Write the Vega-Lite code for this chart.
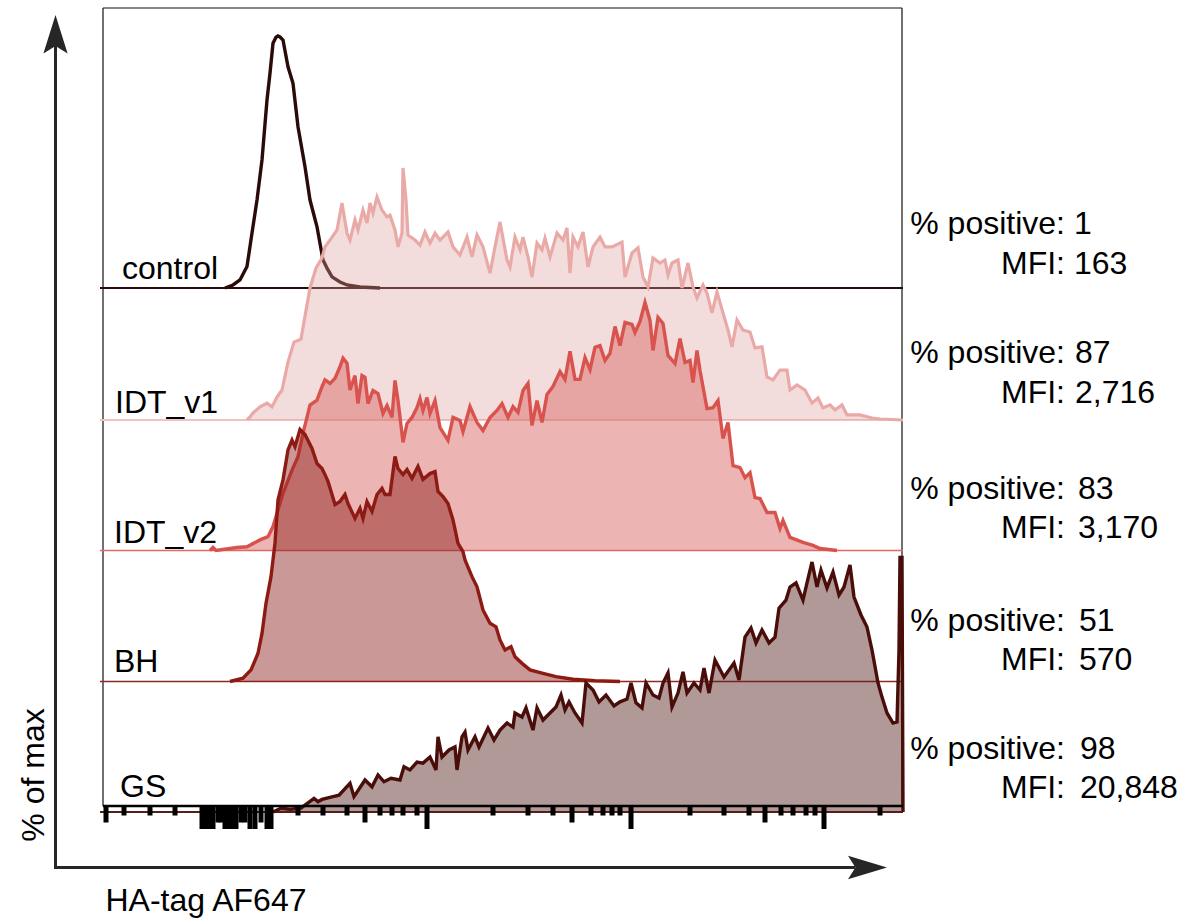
{
"$schema": "https://vega.github.io/schema/vega-lite/v6.json",
"width": 803, "height": 804,
"autosize": {"type": "none"},
"padding": {"left": 100, "top": 8, "right": 284, "bottom": 108},
"background": "white",
"config": {"view": {"stroke": null}},
"datasets": {
"stats": [
{"s":"control","pos":"1","mfi":"163"},
{"s":"IDT_v1","pos":"87","mfi":"2,716"},
{"s":"IDT_v2","pos":"83","mfi":"3,170"},
{"s":"BH","pos":"51","mfi":"570"},
{"s":"GS","pos":"98","mfi":"20,848"}
],
"ticks": [
{"x":6,"k":"mid"},{"x":24,"k":"short"},{"x":50,"k":"short"},{"x":75,"k":"short"},
{"x":102,"k":"long"},{"x":106,"k":"long"},{"x":110,"k":"long"},{"x":113,"k":"long"},
{"x":118,"k":"mid"},{"x":121,"k":"mid"},
{"x":125,"k":"long"},{"x":129,"k":"long"},{"x":133,"k":"long"},{"x":136,"k":"long"},
{"x":141,"k":"mid"},{"x":145,"k":"mid"},
{"x":150,"k":"long"},{"x":155,"k":"long"},
{"x":161,"k":"mid"},
{"x":167,"k":"long"},{"x":171,"k":"long"},
{"x":198,"k":"short"},{"x":223,"k":"short"},{"x":247,"k":"short"},{"x":265,"k":"mid"},
{"x":280,"k":"short"},{"x":292,"k":"short"},{"x":303,"k":"short"},{"x":317,"k":"short"},{"x":327,"k":"long"},
{"x":393,"k":"short"},{"x":428,"k":"short"},{"x":453,"k":"short"},{"x":472,"k":"mid"},
{"x":491,"k":"short"},{"x":503,"k":"short"},{"x":512,"k":"short"},{"x":520,"k":"short"},{"x":531,"k":"long"},
{"x":590,"k":"short"},{"x":624,"k":"short"},{"x":649,"k":"short"},{"x":665,"k":"mid"},
{"x":681,"k":"short"},{"x":693,"k":"short"},{"x":706,"k":"short"},{"x":715,"k":"short"},{"x":724,"k":"long"},
{"x":780,"k":"short"}
],
"hist": [
{"s":"control","x":125,"p":0},{"s":"control","x":133,"p":1.2},{"s":"control","x":140,"p":3.2},{"s":"control","x":147,"p":8.5},{"s":"control","x":152,"p":21.8},{"s":"control","x":157,"p":34.9},{"s":"control","x":162,"p":50.8},{"s":"control","x":167,"p":74.6},{"s":"control","x":170,"p":85.2},{"s":"control","x":173,"p":97.1},{"s":"control","x":176,"p":99.5},{"s":"control","x":178,"p":100},{"s":"control","x":180,"p":99.6},{"s":"control","x":183,"p":98.4},{"s":"control","x":188,"p":87.8},{"s":"control","x":193,"p":81.2},{"s":"control","x":198,"p":64},{"s":"control","x":205,"p":48.1},{"s":"control","x":210,"p":34.9},{"s":"control","x":217,"p":24.3},{"s":"control","x":223,"p":11.1},{"s":"control","x":227,"p":7.9},{"s":"control","x":232,"p":4.4},{"s":"control","x":240,"p":2.4},{"s":"control","x":247,"p":1.2},{"s":"control","x":260,"p":0.4},{"s":"control","x":280,"p":0},

{"s":"IDT_v1","x":147,"p":0},{"s":"IDT_v1","x":150,"p":1.2},{"s":"IDT_v1","x":153,"p":2.8},{"s":"IDT_v1","x":160,"p":5.2},{"s":"IDT_v1","x":167,"p":6.7},{"s":"IDT_v1","x":172,"p":5.2},{"s":"IDT_v1","x":177,"p":9.1},{"s":"IDT_v1","x":182,"p":11.9},{"s":"IDT_v1","x":188,"p":23},{"s":"IDT_v1","x":194,"p":30.9},{"s":"IDT_v1","x":201,"p":32.1},{"s":"IDT_v1","x":205,"p":41.3},{"s":"IDT_v1","x":210,"p":52.4},{"s":"IDT_v1","x":216,"p":60.3},{"s":"IDT_v1","x":222,"p":64.3},{"s":"IDT_v1","x":225,"p":68.7},{"s":"IDT_v1","x":230,"p":71.4},{"s":"IDT_v1","x":237,"p":75.4},{"s":"IDT_v1","x":242,"p":86.1},{"s":"IDT_v1","x":247,"p":74.2},{"s":"IDT_v1","x":250,"p":71.4},{"s":"IDT_v1","x":255,"p":79.4},{"s":"IDT_v1","x":258,"p":75.4},{"s":"IDT_v1","x":263,"p":83.3},{"s":"IDT_v1","x":267,"p":78.2},{"s":"IDT_v1","x":270,"p":86.1},{"s":"IDT_v1","x":273,"p":82.1},{"s":"IDT_v1","x":277,"p":88.5},{"s":"IDT_v1","x":282,"p":83.3},{"s":"IDT_v1","x":287,"p":80.6},{"s":"IDT_v1","x":290,"p":81.3},{"s":"IDT_v1","x":295,"p":75.4},{"s":"IDT_v1","x":298,"p":68.7},{"s":"IDT_v1","x":302,"p":74.2},{"s":"IDT_v1","x":303,"p":100},{"s":"IDT_v1","x":306,"p":87.3},{"s":"IDT_v1","x":308,"p":73.4},{"s":"IDT_v1","x":315,"p":71.4},{"s":"IDT_v1","x":320,"p":69.4},{"s":"IDT_v1","x":325,"p":74.6},{"s":"IDT_v1","x":330,"p":70.2},{"s":"IDT_v1","x":335,"p":74.2},{"s":"IDT_v1","x":340,"p":71.4},{"s":"IDT_v1","x":348,"p":74.6},{"s":"IDT_v1","x":353,"p":68.7},{"s":"IDT_v1","x":360,"p":65.5},{"s":"IDT_v1","x":367,"p":72.6},{"s":"IDT_v1","x":372,"p":64.7},{"s":"IDT_v1","x":377,"p":73.4},{"s":"IDT_v1","x":383,"p":68.7},{"s":"IDT_v1","x":390,"p":58.3},{"s":"IDT_v1","x":395,"p":68.7},{"s":"IDT_v1","x":400,"p":78.6},{"s":"IDT_v1","x":407,"p":63.5},{"s":"IDT_v1","x":410,"p":60.7},{"s":"IDT_v1","x":415,"p":72.6},{"s":"IDT_v1","x":420,"p":67.5},{"s":"IDT_v1","x":423,"p":72.6},{"s":"IDT_v1","x":428,"p":64.7},{"s":"IDT_v1","x":432,"p":56.7},{"s":"IDT_v1","x":437,"p":70.2},{"s":"IDT_v1","x":442,"p":67.5},{"s":"IDT_v1","x":445,"p":72.2},{"s":"IDT_v1","x":450,"p":64.7},{"s":"IDT_v1","x":457,"p":74.2},{"s":"IDT_v1","x":463,"p":71.4},{"s":"IDT_v1","x":467,"p":76.2},{"s":"IDT_v1","x":470,"p":58.3},{"s":"IDT_v1","x":473,"p":72.6},{"s":"IDT_v1","x":478,"p":68.7},{"s":"IDT_v1","x":483,"p":74.6},{"s":"IDT_v1","x":488,"p":60.7},{"s":"IDT_v1","x":493,"p":68.7},{"s":"IDT_v1","x":500,"p":72.6},{"s":"IDT_v1","x":505,"p":68.7},{"s":"IDT_v1","x":512,"p":68.7},{"s":"IDT_v1","x":522,"p":70.6},{"s":"IDT_v1","x":525,"p":56.7},{"s":"IDT_v1","x":532,"p":66.3},{"s":"IDT_v1","x":538,"p":68.3},{"s":"IDT_v1","x":543,"p":56.7},{"s":"IDT_v1","x":548,"p":52.8},{"s":"IDT_v1","x":553,"p":64.3},{"s":"IDT_v1","x":560,"p":62.3},{"s":"IDT_v1","x":565,"p":63.5},{"s":"IDT_v1","x":568,"p":57.5},{"s":"IDT_v1","x":572,"p":62.3},{"s":"IDT_v1","x":578,"p":63.5},{"s":"IDT_v1","x":582,"p":52.4},{"s":"IDT_v1","x":588,"p":62.3},{"s":"IDT_v1","x":593,"p":52.8},{"s":"IDT_v1","x":597,"p":48.4},{"s":"IDT_v1","x":603,"p":53.6},{"s":"IDT_v1","x":607,"p":50.4},{"s":"IDT_v1","x":612,"p":42.5},{"s":"IDT_v1","x":617,"p":50.8},{"s":"IDT_v1","x":623,"p":42.5},{"s":"IDT_v1","x":628,"p":35.7},{"s":"IDT_v1","x":632,"p":29},{"s":"IDT_v1","x":637,"p":39.7},{"s":"IDT_v1","x":643,"p":35.7},{"s":"IDT_v1","x":650,"p":34.9},{"s":"IDT_v1","x":655,"p":28.6},{"s":"IDT_v1","x":662,"p":29},{"s":"IDT_v1","x":667,"p":17.1},{"s":"IDT_v1","x":673,"p":15.9},{"s":"IDT_v1","x":680,"p":19.8},{"s":"IDT_v1","x":687,"p":19.8},{"s":"IDT_v1","x":690,"p":11.9},{"s":"IDT_v1","x":697,"p":13.9},{"s":"IDT_v1","x":705,"p":11.9},{"s":"IDT_v1","x":712,"p":6.7},{"s":"IDT_v1","x":718,"p":8.7},{"s":"IDT_v1","x":723,"p":4.8},{"s":"IDT_v1","x":730,"p":6},{"s":"IDT_v1","x":735,"p":4},{"s":"IDT_v1","x":742,"p":6},{"s":"IDT_v1","x":747,"p":2},{"s":"IDT_v1","x":760,"p":2},{"s":"IDT_v1","x":772,"p":0.8},{"s":"IDT_v1","x":780,"p":0.4},{"s":"IDT_v1","x":803,"p":0},

{"s":"IDT_v2","x":110,"p":0},{"s":"IDT_v2","x":113,"p":1.2},{"s":"IDT_v2","x":116,"p":0},{"s":"IDT_v2","x":130,"p":0.8},{"s":"IDT_v2","x":137,"p":1.2},{"s":"IDT_v2","x":147,"p":1.5},{"s":"IDT_v2","x":160,"p":4.2},{"s":"IDT_v2","x":168,"p":5.5},{"s":"IDT_v2","x":173,"p":9.5},{"s":"IDT_v2","x":177,"p":14.8},{"s":"IDT_v2","x":183,"p":22.7},{"s":"IDT_v2","x":192,"p":31.9},{"s":"IDT_v2","x":198,"p":37.2},{"s":"IDT_v2","x":203,"p":46.5},{"s":"IDT_v2","x":210,"p":57.7},{"s":"IDT_v2","x":217,"p":59.7},{"s":"IDT_v2","x":222,"p":65},{"s":"IDT_v2","x":225,"p":67.7},{"s":"IDT_v2","x":230,"p":66.3},{"s":"IDT_v2","x":235,"p":68.3},{"s":"IDT_v2","x":240,"p":72.9},{"s":"IDT_v2","x":243,"p":76.3},{"s":"IDT_v2","x":247,"p":74.3},{"s":"IDT_v2","x":250,"p":63.7},{"s":"IDT_v2","x":255,"p":69.4},{"s":"IDT_v2","x":258,"p":58.3},{"s":"IDT_v2","x":262,"p":69.4},{"s":"IDT_v2","x":265,"p":68.7},{"s":"IDT_v2","x":268,"p":58.3},{"s":"IDT_v2","x":273,"p":63.5},{"s":"IDT_v2","x":278,"p":62.3},{"s":"IDT_v2","x":283,"p":54.4},{"s":"IDT_v2","x":287,"p":57.5},{"s":"IDT_v2","x":292,"p":52.8},{"s":"IDT_v2","x":295,"p":67.5},{"s":"IDT_v2","x":298,"p":59.5},{"s":"IDT_v2","x":303,"p":42.9},{"s":"IDT_v2","x":307,"p":50.4},{"s":"IDT_v2","x":312,"p":52.8},{"s":"IDT_v2","x":317,"p":56.7},{"s":"IDT_v2","x":320,"p":60.3},{"s":"IDT_v2","x":323,"p":55.6},{"s":"IDT_v2","x":327,"p":60.7},{"s":"IDT_v2","x":330,"p":54.4},{"s":"IDT_v2","x":335,"p":59.5},{"s":"IDT_v2","x":340,"p":48.8},{"s":"IDT_v2","x":348,"p":43.7},{"s":"IDT_v2","x":353,"p":52.8},{"s":"IDT_v2","x":360,"p":51.6},{"s":"IDT_v2","x":363,"p":47.2},{"s":"IDT_v2","x":370,"p":57.1},{"s":"IDT_v2","x":377,"p":50.8},{"s":"IDT_v2","x":383,"p":47.6},{"s":"IDT_v2","x":390,"p":52.8},{"s":"IDT_v2","x":397,"p":55.6},{"s":"IDT_v2","x":402,"p":58.3},{"s":"IDT_v2","x":408,"p":52.8},{"s":"IDT_v2","x":413,"p":57.1},{"s":"IDT_v2","x":418,"p":54.8},{"s":"IDT_v2","x":423,"p":63.5},{"s":"IDT_v2","x":428,"p":66.3},{"s":"IDT_v2","x":432,"p":49.6},{"s":"IDT_v2","x":437,"p":59.5},{"s":"IDT_v2","x":442,"p":50.8},{"s":"IDT_v2","x":447,"p":61.9},{"s":"IDT_v2","x":453,"p":65.1},{"s":"IDT_v2","x":460,"p":71},{"s":"IDT_v2","x":465,"p":67.9},{"s":"IDT_v2","x":470,"p":79},{"s":"IDT_v2","x":475,"p":67.9},{"s":"IDT_v2","x":480,"p":67.9},{"s":"IDT_v2","x":485,"p":76.6},{"s":"IDT_v2","x":490,"p":71.8},{"s":"IDT_v2","x":495,"p":80.6},{"s":"IDT_v2","x":500,"p":81.3},{"s":"IDT_v2","x":505,"p":75.4},{"s":"IDT_v2","x":510,"p":78.2},{"s":"IDT_v2","x":515,"p":88.9},{"s":"IDT_v2","x":520,"p":81.3},{"s":"IDT_v2","x":525,"p":90.5},{"s":"IDT_v2","x":532,"p":89.7},{"s":"IDT_v2","x":535,"p":86.5},{"s":"IDT_v2","x":540,"p":90.9},{"s":"IDT_v2","x":545,"p":98.4},{"s":"IDT_v2","x":550,"p":91.3},{"s":"IDT_v2","x":553,"p":79.4},{"s":"IDT_v2","x":558,"p":92.5},{"s":"IDT_v2","x":563,"p":90.1},{"s":"IDT_v2","x":568,"p":77.4},{"s":"IDT_v2","x":575,"p":74.2},{"s":"IDT_v2","x":580,"p":84.1},{"s":"IDT_v2","x":585,"p":74.6},{"s":"IDT_v2","x":590,"p":75.4},{"s":"IDT_v2","x":593,"p":66.7},{"s":"IDT_v2","x":597,"p":79.4},{"s":"IDT_v2","x":600,"p":71.4},{"s":"IDT_v2","x":607,"p":56.3},{"s":"IDT_v2","x":613,"p":56.7},{"s":"IDT_v2","x":618,"p":59.5},{"s":"IDT_v2","x":623,"p":44.4},{"s":"IDT_v2","x":628,"p":50.8},{"s":"IDT_v2","x":633,"p":33.7},{"s":"IDT_v2","x":640,"p":32.9},{"s":"IDT_v2","x":645,"p":28.9},{"s":"IDT_v2","x":650,"p":30.9},{"s":"IDT_v2","x":655,"p":21},{"s":"IDT_v2","x":660,"p":20.6},{"s":"IDT_v2","x":667,"p":15.1},{"s":"IDT_v2","x":675,"p":15.1},{"s":"IDT_v2","x":680,"p":8.7},{"s":"IDT_v2","x":683,"p":11.9},{"s":"IDT_v2","x":690,"p":5.2},{"s":"IDT_v2","x":703,"p":3.2},{"s":"IDT_v2","x":713,"p":2},{"s":"IDT_v2","x":720,"p":0.8},{"s":"IDT_v2","x":737,"p":0},

{"s":"BH","x":130,"p":0},{"s":"BH","x":143,"p":1.3},{"s":"BH","x":151,"p":4.6},{"s":"BH","x":158,"p":11.2},{"s":"BH","x":162,"p":19.1},{"s":"BH","x":166,"p":31},{"s":"BH","x":171,"p":41.6},{"s":"BH","x":175,"p":55},{"s":"BH","x":178,"p":72},{"s":"BH","x":183,"p":80},{"s":"BH","x":188,"p":91.9},{"s":"BH","x":192,"p":95.8},{"s":"BH","x":195,"p":93.2},{"s":"BH","x":200,"p":100},{"s":"BH","x":205,"p":98},{"s":"BH","x":212,"p":92.5},{"s":"BH","x":217,"p":86.5},{"s":"BH","x":222,"p":84.5},{"s":"BH","x":225,"p":82.1},{"s":"BH","x":228,"p":79.4},{"s":"BH","x":232,"p":74.2},{"s":"BH","x":235,"p":70.2},{"s":"BH","x":240,"p":71.4},{"s":"BH","x":245,"p":74.2},{"s":"BH","x":248,"p":70.6},{"s":"BH","x":255,"p":64.7},{"s":"BH","x":260,"p":68.7},{"s":"BH","x":263,"p":64.7},{"s":"BH","x":267,"p":71.4},{"s":"BH","x":272,"p":67.5},{"s":"BH","x":277,"p":74.2},{"s":"BH","x":282,"p":76.6},{"s":"BH","x":285,"p":74.2},{"s":"BH","x":290,"p":74.2},{"s":"BH","x":295,"p":89.3},{"s":"BH","x":298,"p":84.5},{"s":"BH","x":303,"p":82.1},{"s":"BH","x":307,"p":84.1},{"s":"BH","x":312,"p":80.6},{"s":"BH","x":318,"p":85.3},{"s":"BH","x":323,"p":80.2},{"s":"BH","x":330,"p":82.5},{"s":"BH","x":335,"p":83.3},{"s":"BH","x":338,"p":75.4},{"s":"BH","x":343,"p":73.4},{"s":"BH","x":348,"p":70.6},{"s":"BH","x":353,"p":64.1},{"s":"BH","x":358,"p":54.8},{"s":"BH","x":363,"p":51.5},{"s":"BH","x":365,"p":48.2},{"s":"BH","x":372,"p":41.6},{"s":"BH","x":377,"p":37.6},{"s":"BH","x":383,"p":28.4},{"s":"BH","x":390,"p":23.1},{"s":"BH","x":396,"p":21.7},{"s":"BH","x":400,"p":16.5},{"s":"BH","x":405,"p":12.5},{"s":"BH","x":411,"p":13.8},{"s":"BH","x":415,"p":9.8},{"s":"BH","x":422,"p":7.2},{"s":"BH","x":430,"p":4.6},{"s":"BH","x":443,"p":3.2},{"s":"BH","x":456,"p":1.9},{"s":"BH","x":473,"p":0.9},{"s":"BH","x":495,"p":0.3},{"s":"BH","x":520,"p":0},

{"s":"GS","x":173,"p":0},{"s":"GS","x":181,"p":1.5},{"s":"GS","x":190,"p":1.1},{"s":"GS","x":201,"p":1.5},{"s":"GS","x":214,"p":5.4},{"s":"GS","x":218,"p":4.1},{"s":"GS","x":222,"p":5},{"s":"GS","x":233,"p":6.1},{"s":"GS","x":239,"p":6.7},{"s":"GS","x":250,"p":11.4},{"s":"GS","x":254,"p":6.1},{"s":"GS","x":265,"p":12.7},{"s":"GS","x":272,"p":10},{"s":"GS","x":278,"p":14.7},{"s":"GS","x":284,"p":12},{"s":"GS","x":291,"p":13.4},{"s":"GS","x":300,"p":12.7},{"s":"GS","x":304,"p":18},{"s":"GS","x":310,"p":16.7},{"s":"GS","x":317,"p":19.8},{"s":"GS","x":323,"p":19.4},{"s":"GS","x":330,"p":21.8},{"s":"GS","x":336,"p":16.7},{"s":"GS","x":338,"p":29.8},{"s":"GS","x":342,"p":21.8},{"s":"GS","x":349,"p":24.6},{"s":"GS","x":355,"p":25.8},{"s":"GS","x":357,"p":16.7},{"s":"GS","x":362,"p":29.8},{"s":"GS","x":365,"p":31.7},{"s":"GS","x":368,"p":24.6},{"s":"GS","x":375,"p":29.8},{"s":"GS","x":379,"p":25.8},{"s":"GS","x":388,"p":33.3},{"s":"GS","x":394,"p":28.6},{"s":"GS","x":400,"p":32.5},{"s":"GS","x":407,"p":35.3},{"s":"GS","x":413,"p":33.7},{"s":"GS","x":415,"p":39.3},{"s":"GS","x":422,"p":37.7},{"s":"GS","x":426,"p":41.3},{"s":"GS","x":433,"p":32.5},{"s":"GS","x":437,"p":41.3},{"s":"GS","x":443,"p":36.5},{"s":"GS","x":450,"p":39.3},{"s":"GS","x":456,"p":41.7},{"s":"GS","x":461,"p":46.4},{"s":"GS","x":465,"p":40.5},{"s":"GS","x":469,"p":43.7},{"s":"GS","x":475,"p":39.3},{"s":"GS","x":482,"p":35.3},{"s":"GS","x":486,"p":51.2},{"s":"GS","x":493,"p":48.4},{"s":"GS","x":499,"p":43.7},{"s":"GS","x":506,"p":46.4},{"s":"GS","x":514,"p":42.1},{"s":"GS","x":520,"p":43.7},{"s":"GS","x":527,"p":44.8},{"s":"GS","x":531,"p":51.2},{"s":"GS","x":536,"p":43.3},{"s":"GS","x":542,"p":41.3},{"s":"GS","x":546,"p":51.2},{"s":"GS","x":553,"p":46.4},{"s":"GS","x":559,"p":45.2},{"s":"GS","x":563,"p":51.2},{"s":"GS","x":568,"p":55.2},{"s":"GS","x":572,"p":41.7},{"s":"GS","x":578,"p":47.2},{"s":"GS","x":583,"p":55.6},{"s":"GS","x":587,"p":47.2},{"s":"GS","x":594,"p":51.2},{"s":"GS","x":600,"p":48.4},{"s":"GS","x":604,"p":57.1},{"s":"GS","x":609,"p":47.2},{"s":"GS","x":615,"p":60.3},{"s":"GS","x":624,"p":53.6},{"s":"GS","x":634,"p":59.1},{"s":"GS","x":639,"p":52.4},{"s":"GS","x":645,"p":69.4},{"s":"GS","x":651,"p":73},{"s":"GS","x":656,"p":67.1},{"s":"GS","x":662,"p":72.2},{"s":"GS","x":669,"p":67.1},{"s":"GS","x":675,"p":69.4},{"s":"GS","x":679,"p":80.9},{"s":"GS","x":686,"p":84.1},{"s":"GS","x":690,"p":89.3},{"s":"GS","x":696,"p":90.9},{"s":"GS","x":703,"p":84.1},{"s":"GS","x":707,"p":90.9},{"s":"GS","x":712,"p":99.2},{"s":"GS","x":717,"p":89.3},{"s":"GS","x":721,"p":96},{"s":"GS","x":727,"p":88.9},{"s":"GS","x":733,"p":95.2},{"s":"GS","x":739,"p":86.1},{"s":"GS","x":744,"p":89.3},{"s":"GS","x":750,"p":98},{"s":"GS","x":754,"p":85.3},{"s":"GS","x":761,"p":78.2},{"s":"GS","x":767,"p":73.4},{"s":"GS","x":772,"p":64.3},{"s":"GS","x":778,"p":51.2},{"s":"GS","x":782,"p":45.6},{"s":"GS","x":787,"p":39.3},{"s":"GS","x":793,"p":35.3},{"s":"GS","x":797,"p":35.7},{"s":"GS","x":799,"p":64.3},{"s":"GS","x":800,"p":101},{"s":"GS","x":802,"p":101},{"s":"GS","x":803,"p":0}
]
},
"layer": [
{
"data": {"values": [{"k": 1}]},
"layer": [
{"mark": {"type": "rule", "color": "#111111", "strokeWidth": 1.2},
 "encoding": {"x": {"datum": 3, "type": "quantitative", "scale": {"domain": [0, 803], "nice": false, "zero": false}, "axis": null}, "x2": {"datum": 802}, "y": {"datum": 319.05, "type": "quantitative", "scale": {"domain": [0, 319.05], "nice": false, "zero": false}, "axis": null}}},
{"mark": {"type": "rule", "color": "#111111", "strokeWidth": 1.2},
 "encoding": {"x": {"datum": 3, "type": "quantitative", "axis": null}, "y": {"datum": 2.38, "type": "quantitative", "axis": null}, "y2": {"datum": 319.05}}},
{"mark": {"type": "rule", "color": "#111111", "strokeWidth": 1.2},
 "encoding": {"x": {"datum": 802, "type": "quantitative", "axis": null}, "y": {"datum": 2.38, "type": "quantitative", "axis": null}, "y2": {"datum": 319.05}}},
{"mark": {"type": "rule", "color": "#262626", "strokeWidth": 3},
 "encoding": {"x": {"datum": -44.5, "type": "quantitative", "axis": null}, "y": {"datum": -22.4, "type": "quantitative", "axis": null}, "y2": {"datum": 304.4}}},
{"mark": {"type": "rule", "color": "#262626", "strokeWidth": 3},
 "encoding": {"x": {"datum": -46, "type": "quantitative", "axis": null}, "x2": {"datum": 755}, "y": {"datum": -22.02, "type": "quantitative", "axis": null}}},
{"mark": {"type": "point", "shape": "M0,-1L0.63,1L0,0.62L-0.63,1Z", "filled": true, "color": "#262626", "opacity": 1, "size": 1475, "strokeWidth": 0},
 "encoding": {"x": {"datum": -44.5, "type": "quantitative", "axis": null}, "y": {"datum": 308.65, "type": "quantitative", "axis": null}}},
{"mark": {"type": "point", "shape": "M1,0L-1,-0.6L-0.62,0L-1,0.6Z", "filled": true, "color": "#262626", "opacity": 1, "size": 1521, "strokeWidth": 0},
 "encoding": {"x": {"datum": 767.5, "type": "quantitative", "axis": null}, "y": {"datum": -22.02, "type": "quantitative", "axis": null}}},
{"mark": {"type": "text", "text": "% of max", "angle": 270, "align": "center", "baseline": "alphabetic", "font": "Liberation Sans", "fontSize": 32, "color": "#000000"},
 "encoding": {"x": {"datum": -56, "type": "quantitative", "axis": null}, "y": {"datum": 14.7, "type": "quantitative", "axis": null}}},
{"mark": {"type": "text", "text": "HA-tag AF647", "align": "left", "baseline": "alphabetic", "font": "Liberation Sans", "fontSize": 32, "color": "#000000"},
 "encoding": {"x": {"datum": 5.5, "type": "quantitative", "axis": null}, "y": {"datum": -39.3, "type": "quantitative", "axis": null}}}
]
},
{
"layer": [
{"data": {"name": "stats"}, "transform": [{"filter": {"field": "s", "equal": "control"}}],
 "mark": {"type": "rule", "color": "#2b0b07", "strokeWidth": 2},
 "encoding": {"x": {"datum": 0, "type": "quantitative", "axis": null}, "x2": {"datum": 803}, "y": {"datum": 0, "type": "quantitative", "scale": {"domain": [-207.94, 111.11], "nice": false, "zero": false}, "axis": null}}},
{"data": {"name": "hist"}, "transform": [{"filter": {"field": "s", "equal": "control"}}],
 "mark": {"type": "line", "color": "#2b0b07", "strokeWidth": 3.4},
 "encoding": {"x": {"field": "x", "type": "quantitative", "scale": {"domain": [0, 803], "nice": false, "zero": false}, "axis": null}, "y": {"field": "p", "type": "quantitative", "scale": {"domain": [-207.94, 111.11], "nice": false, "zero": false}, "axis": null}}},
{"data": {"name": "stats"}, "transform": [{"filter": {"field": "s", "equal": "control"}}],
 "mark": {"type": "text", "align": "left", "baseline": "alphabetic", "font": "Liberation Sans", "fontSize": 32, "color": "#000000"},
 "encoding": {"text": {"field": "s"}, "x": {"datum": 22, "type": "quantitative", "axis": null}, "y": {"datum": 3.6, "type": "quantitative", "axis": null}}},
{"data": {"name": "stats"}, "transform": [{"filter": {"field": "s", "equal": "control"}}],
 "mark": {"type": "text", "text": "% positive:", "align": "right", "baseline": "alphabetic", "font": "Liberation Sans", "fontSize": 32, "color": "#000000"},
 "encoding": {"x": {"datum": 965, "type": "quantitative", "axis": null}, "y": {"datum": 21.5, "type": "quantitative", "axis": null}}},
{"data": {"name": "stats"}, "transform": [{"filter": {"field": "s", "equal": "control"}}],
 "mark": {"type": "text", "text": "MFI:", "align": "right", "baseline": "alphabetic", "font": "Liberation Sans", "fontSize": 32, "color": "#000000"},
 "encoding": {"x": {"datum": 965, "type": "quantitative", "axis": null}, "y": {"datum": 5.7, "type": "quantitative", "axis": null}}},
{"data": {"name": "stats"}, "transform": [{"filter": {"field": "s", "equal": "control"}}],
 "mark": {"type": "text", "align": "left", "baseline": "alphabetic", "font": "Liberation Sans", "fontSize": 32, "color": "#000000"},
 "encoding": {"text": {"field": "pos"}, "x": {"datum": 974, "type": "quantitative", "axis": null}, "y": {"datum": 21.5, "type": "quantitative", "axis": null}}},
{"data": {"name": "stats"}, "transform": [{"filter": {"field": "s", "equal": "control"}}],
 "mark": {"type": "text", "align": "left", "baseline": "alphabetic", "font": "Liberation Sans", "fontSize": 32, "color": "#000000"},
 "encoding": {"text": {"field": "mfi"}, "x": {"datum": 974, "type": "quantitative", "axis": null}, "y": {"datum": 5.7, "type": "quantitative", "axis": null}}}
]
},
{
"layer": [
{"data": {"name": "stats"}, "transform": [{"filter": {"field": "s", "equal": "IDT_v1"}}],
 "mark": {"type": "rule", "color": "#f0c3c1", "strokeWidth": 2},
 "encoding": {"x": {"datum": 0, "type": "quantitative", "axis": null}, "x2": {"datum": 803}, "y": {"datum": 0, "type": "quantitative", "scale": {"domain": [-155.56, 163.49], "nice": false, "zero": false}, "axis": null}}},
{"data": {"name": "hist"}, "transform": [{"filter": {"field": "s", "equal": "IDT_v1"}}],
 "mark": {"type": "area", "color": "#dd9b9b", "opacity": 0.35, "line": {"color": "#e9aaa7", "strokeWidth": 3.2, "opacity": 1}},
 "encoding": {"x": {"field": "x", "type": "quantitative", "scale": {"domain": [0, 803], "nice": false, "zero": false}, "axis": null}, "y": {"field": "p", "type": "quantitative", "scale": {"domain": [-155.56, 163.49], "nice": false, "zero": false}, "axis": null}, "y2": {"datum": 0}}},
{"data": {"name": "stats"}, "transform": [{"filter": {"field": "s", "equal": "IDT_v1"}}],
 "mark": {"type": "text", "align": "left", "baseline": "alphabetic", "font": "Liberation Sans", "fontSize": 32, "color": "#000000"},
 "encoding": {"text": {"field": "s"}, "x": {"datum": 15, "type": "quantitative", "axis": null}, "y": {"datum": 2.8, "type": "quantitative", "axis": null}}},
{"data": {"name": "stats"}, "transform": [{"filter": {"field": "s", "equal": "IDT_v1"}}],
 "mark": {"type": "text", "text": "% positive:", "align": "right", "baseline": "alphabetic", "font": "Liberation Sans", "fontSize": 32, "color": "#000000"},
 "encoding": {"x": {"datum": 965, "type": "quantitative", "axis": null}, "y": {"datum": 22.7, "type": "quantitative", "axis": null}}},
{"data": {"name": "stats"}, "transform": [{"filter": {"field": "s", "equal": "IDT_v1"}}],
 "mark": {"type": "text", "text": "MFI:", "align": "right", "baseline": "alphabetic", "font": "Liberation Sans", "fontSize": 32, "color": "#000000"},
 "encoding": {"x": {"datum": 965, "type": "quantitative", "axis": null}, "y": {"datum": 6.9, "type": "quantitative", "axis": null}}},
{"data": {"name": "stats"}, "transform": [{"filter": {"field": "s", "equal": "IDT_v1"}}],
 "mark": {"type": "text", "align": "left", "baseline": "alphabetic", "font": "Liberation Sans", "fontSize": 32, "color": "#000000"},
 "encoding": {"text": {"field": "pos"}, "x": {"datum": 975, "type": "quantitative", "axis": null}, "y": {"datum": 22.7, "type": "quantitative", "axis": null}}},
{"data": {"name": "stats"}, "transform": [{"filter": {"field": "s", "equal": "IDT_v1"}}],
 "mark": {"type": "text", "align": "left", "baseline": "alphabetic", "font": "Liberation Sans", "fontSize": 32, "color": "#000000"},
 "encoding": {"text": {"field": "mfi"}, "x": {"datum": 975, "type": "quantitative", "axis": null}, "y": {"datum": 6.9, "type": "quantitative", "axis": null}}}
]
},
{
"layer": [
{"data": {"name": "stats"}, "transform": [{"filter": {"field": "s", "equal": "IDT_v2"}}],
 "mark": {"type": "rule", "color": "#df6a66", "strokeWidth": 1.5},
 "encoding": {"x": {"datum": 0, "type": "quantitative", "axis": null}, "x2": {"datum": 803}, "y": {"datum": 0, "type": "quantitative", "scale": {"domain": [-103.77, 215.28], "nice": false, "zero": false}, "axis": null}}},
{"data": {"name": "hist"}, "transform": [{"filter": {"field": "s", "equal": "IDT_v2"}}],
 "mark": {"type": "area", "color": "#d96b69", "opacity": 0.5, "line": {"color": "#d9534e", "strokeWidth": 3.4, "opacity": 1}},
 "encoding": {"x": {"field": "x", "type": "quantitative", "scale": {"domain": [0, 803], "nice": false, "zero": false}, "axis": null}, "y": {"field": "p", "type": "quantitative", "scale": {"domain": [-103.77, 215.28], "nice": false, "zero": false}, "axis": null}, "y2": {"datum": 0}}},
{"data": {"name": "stats"}, "transform": [{"filter": {"field": "s", "equal": "IDT_v2"}}],
 "mark": {"type": "text", "align": "left", "baseline": "alphabetic", "font": "Liberation Sans", "fontSize": 32, "color": "#000000"},
 "encoding": {"text": {"field": "s"}, "x": {"datum": 14, "type": "quantitative", "axis": null}, "y": {"datum": 2.8, "type": "quantitative", "axis": null}}},
{"data": {"name": "stats"}, "transform": [{"filter": {"field": "s", "equal": "IDT_v2"}}],
 "mark": {"type": "text", "text": "% positive:", "align": "right", "baseline": "alphabetic", "font": "Liberation Sans", "fontSize": 32, "color": "#000000"},
 "encoding": {"x": {"datum": 965, "type": "quantitative", "axis": null}, "y": {"datum": 20.5, "type": "quantitative", "axis": null}}},
{"data": {"name": "stats"}, "transform": [{"filter": {"field": "s", "equal": "IDT_v2"}}],
 "mark": {"type": "text", "text": "MFI:", "align": "right", "baseline": "alphabetic", "font": "Liberation Sans", "fontSize": 32, "color": "#000000"},
 "encoding": {"x": {"datum": 965, "type": "quantitative", "axis": null}, "y": {"datum": 4.9, "type": "quantitative", "axis": null}}},
{"data": {"name": "stats"}, "transform": [{"filter": {"field": "s", "equal": "IDT_v2"}}],
 "mark": {"type": "text", "align": "left", "baseline": "alphabetic", "font": "Liberation Sans", "fontSize": 32, "color": "#000000"},
 "encoding": {"text": {"field": "pos"}, "x": {"datum": 978, "type": "quantitative", "axis": null}, "y": {"datum": 20.5, "type": "quantitative", "axis": null}}},
{"data": {"name": "stats"}, "transform": [{"filter": {"field": "s", "equal": "IDT_v2"}}],
 "mark": {"type": "text", "align": "left", "baseline": "alphabetic", "font": "Liberation Sans", "fontSize": 32, "color": "#000000"},
 "encoding": {"text": {"field": "mfi"}, "x": {"datum": 978, "type": "quantitative", "axis": null}, "y": {"datum": 4.9, "type": "quantitative", "axis": null}}}
]
},
{
"layer": [
{"data": {"name": "stats"}, "transform": [{"filter": {"field": "s", "equal": "BH"}}],
 "mark": {"type": "rule", "color": "#8e2a22", "strokeWidth": 1.5},
 "encoding": {"x": {"datum": 0, "type": "quantitative", "axis": null}, "x2": {"datum": 803}, "y": {"datum": 0, "type": "quantitative", "scale": {"domain": [-51.79, 267.26], "nice": false, "zero": false}, "axis": null}}},
{"data": {"name": "hist"}, "transform": [{"filter": {"field": "s", "equal": "BH"}}],
 "mark": {"type": "area", "color": "#810a05", "opacity": 0.42, "line": {"color": "#8e1b13", "strokeWidth": 3.4, "opacity": 1}},
 "encoding": {"x": {"field": "x", "type": "quantitative", "scale": {"domain": [0, 803], "nice": false, "zero": false}, "axis": null}, "y": {"field": "p", "type": "quantitative", "scale": {"domain": [-51.79, 267.26], "nice": false, "zero": false}, "axis": null}, "y2": {"datum": 0}}},
{"data": {"name": "stats"}, "transform": [{"filter": {"field": "s", "equal": "BH"}}],
 "mark": {"type": "text", "align": "left", "baseline": "alphabetic", "font": "Liberation Sans", "fontSize": 32, "color": "#000000"},
 "encoding": {"text": {"field": "s"}, "x": {"datum": 14, "type": "quantitative", "axis": null}, "y": {"datum": 3.6, "type": "quantitative", "axis": null}}},
{"data": {"name": "stats"}, "transform": [{"filter": {"field": "s", "equal": "BH"}}],
 "mark": {"type": "text", "text": "% positive:", "align": "right", "baseline": "alphabetic", "font": "Liberation Sans", "fontSize": 32, "color": "#000000"},
 "encoding": {"x": {"datum": 965, "type": "quantitative", "axis": null}, "y": {"datum": 20.1, "type": "quantitative", "axis": null}}},
{"data": {"name": "stats"}, "transform": [{"filter": {"field": "s", "equal": "BH"}}],
 "mark": {"type": "text", "text": "MFI:", "align": "right", "baseline": "alphabetic", "font": "Liberation Sans", "fontSize": 32, "color": "#000000"},
 "encoding": {"x": {"datum": 965, "type": "quantitative", "axis": null}, "y": {"datum": 4.6, "type": "quantitative", "axis": null}}},
{"data": {"name": "stats"}, "transform": [{"filter": {"field": "s", "equal": "BH"}}],
 "mark": {"type": "text", "align": "left", "baseline": "alphabetic", "font": "Liberation Sans", "fontSize": 32, "color": "#000000"},
 "encoding": {"text": {"field": "pos"}, "x": {"datum": 979, "type": "quantitative", "axis": null}, "y": {"datum": 20.1, "type": "quantitative", "axis": null}}},
{"data": {"name": "stats"}, "transform": [{"filter": {"field": "s", "equal": "BH"}}],
 "mark": {"type": "text", "align": "left", "baseline": "alphabetic", "font": "Liberation Sans", "fontSize": 32, "color": "#000000"},
 "encoding": {"text": {"field": "mfi"}, "x": {"datum": 979, "type": "quantitative", "axis": null}, "y": {"datum": 4.6, "type": "quantitative", "axis": null}}}
]
},
{
"layer": [
{"data": {"name": "stats"}, "transform": [{"filter": {"field": "s", "equal": "GS"}}],
 "mark": {"type": "rule", "color": "#5a1e1a", "strokeWidth": 2},
 "encoding": {"x": {"datum": 0, "type": "quantitative", "axis": null}, "x2": {"datum": 803}, "y": {"datum": 0, "type": "quantitative", "scale": {"domain": [0, 319.05], "nice": false, "zero": false}, "axis": null}}},
{"data": {"name": "hist"}, "transform": [{"filter": {"field": "s", "equal": "GS"}}],
 "mark": {"type": "area", "color": "#4f1c18", "opacity": 0.45, "line": {"color": "#4a0e0a", "strokeWidth": 3.4, "opacity": 1}},
 "encoding": {"x": {"field": "x", "type": "quantitative", "scale": {"domain": [0, 803], "nice": false, "zero": false}, "axis": null},
  "y": {"field": "p", "type": "quantitative", "scale": {"domain": [0, 319.05], "nice": false, "zero": false}, "axis": null}, "y2": {"datum": 0}}},
{"data": {"name": "stats"}, "transform": [{"filter": {"field": "s", "equal": "GS"}}],
 "mark": {"type": "text", "align": "left", "baseline": "alphabetic", "font": "Liberation Sans", "fontSize": 32, "color": "#000000"},
 "encoding": {"text": {"field": "s"}, "x": {"datum": 20, "type": "quantitative", "axis": null}, "y": {"datum": 6.0, "type": "quantitative", "axis": null}}},
{"data": {"name": "stats"}, "transform": [{"filter": {"field": "s", "equal": "GS"}}],
 "mark": {"type": "text", "text": "% positive:", "align": "right", "baseline": "alphabetic", "font": "Liberation Sans", "fontSize": 32, "color": "#000000"},
 "encoding": {"x": {"datum": 965, "type": "quantitative", "axis": null}, "y": {"datum": 20.9, "type": "quantitative", "axis": null}}},
{"data": {"name": "stats"}, "transform": [{"filter": {"field": "s", "equal": "GS"}}],
 "mark": {"type": "text", "text": "MFI:", "align": "right", "baseline": "alphabetic", "font": "Liberation Sans", "fontSize": 32, "color": "#000000"},
 "encoding": {"x": {"datum": 965, "type": "quantitative", "axis": null}, "y": {"datum": 5.7, "type": "quantitative", "axis": null}}},
{"data": {"name": "stats"}, "transform": [{"filter": {"field": "s", "equal": "GS"}}],
 "mark": {"type": "text", "align": "left", "baseline": "alphabetic", "font": "Liberation Sans", "fontSize": 32, "color": "#000000"},
 "encoding": {"text": {"field": "pos"}, "x": {"datum": 980, "type": "quantitative", "axis": null}, "y": {"datum": 20.9, "type": "quantitative", "axis": null}}},
{"data": {"name": "stats"}, "transform": [{"filter": {"field": "s", "equal": "GS"}}],
 "mark": {"type": "text", "align": "left", "baseline": "alphabetic", "font": "Liberation Sans", "fontSize": 32, "color": "#000000"},
 "encoding": {"text": {"field": "mfi"}, "x": {"datum": 980, "type": "quantitative", "axis": null}, "y": {"datum": 5.7, "type": "quantitative", "axis": null}}}
]
},
{
"data": {"name": "ticks"},
"layer": [
{"mark": {"type": "rule", "color": "#000000", "strokeWidth": 2.5},
 "transform": [{"filter": {"field": "x", "equal": 6}}],
 "encoding": {"x": {"datum": 3, "type": "quantitative", "scale": {"domain": [0, 803], "nice": false, "zero": false}, "axis": null}, "x2": {"datum": 803}, "y": {"datum": 2.38, "type": "quantitative", "scale": {"domain": [0, 319.05], "nice": false, "zero": false}, "axis": null}}},
{"mark": {"type": "rule", "color": "#000000", "strokeWidth": 5, "strokeCap": "butt"},
 "transform": [{"filter": {"field": "k", "equal": "long"}}],
 "encoding": {"x": {"field": "x", "type": "quantitative", "axis": null}, "y": {"datum": 2.38, "type": "quantitative", "axis": null}, "y2": {"datum": -6.75}}},
{"mark": {"type": "rule", "color": "#000000", "strokeWidth": 5, "strokeCap": "butt"},
 "transform": [{"filter": {"field": "k", "equal": "mid"}}],
 "encoding": {"x": {"field": "x", "type": "quantitative", "axis": null}, "y": {"datum": 2.38, "type": "quantitative", "axis": null}, "y2": {"datum": -4.17}}},
{"mark": {"type": "rule", "color": "#000000", "strokeWidth": 5, "strokeCap": "butt"},
 "transform": [{"filter": {"field": "k", "equal": "short"}}],
 "encoding": {"x": {"field": "x", "type": "quantitative", "axis": null}, "y": {"datum": 2.38, "type": "quantitative", "axis": null}, "y2": {"datum": -1.39}}}
]
}
],
"resolve": {"scale": {"y": "independent"}}
}
